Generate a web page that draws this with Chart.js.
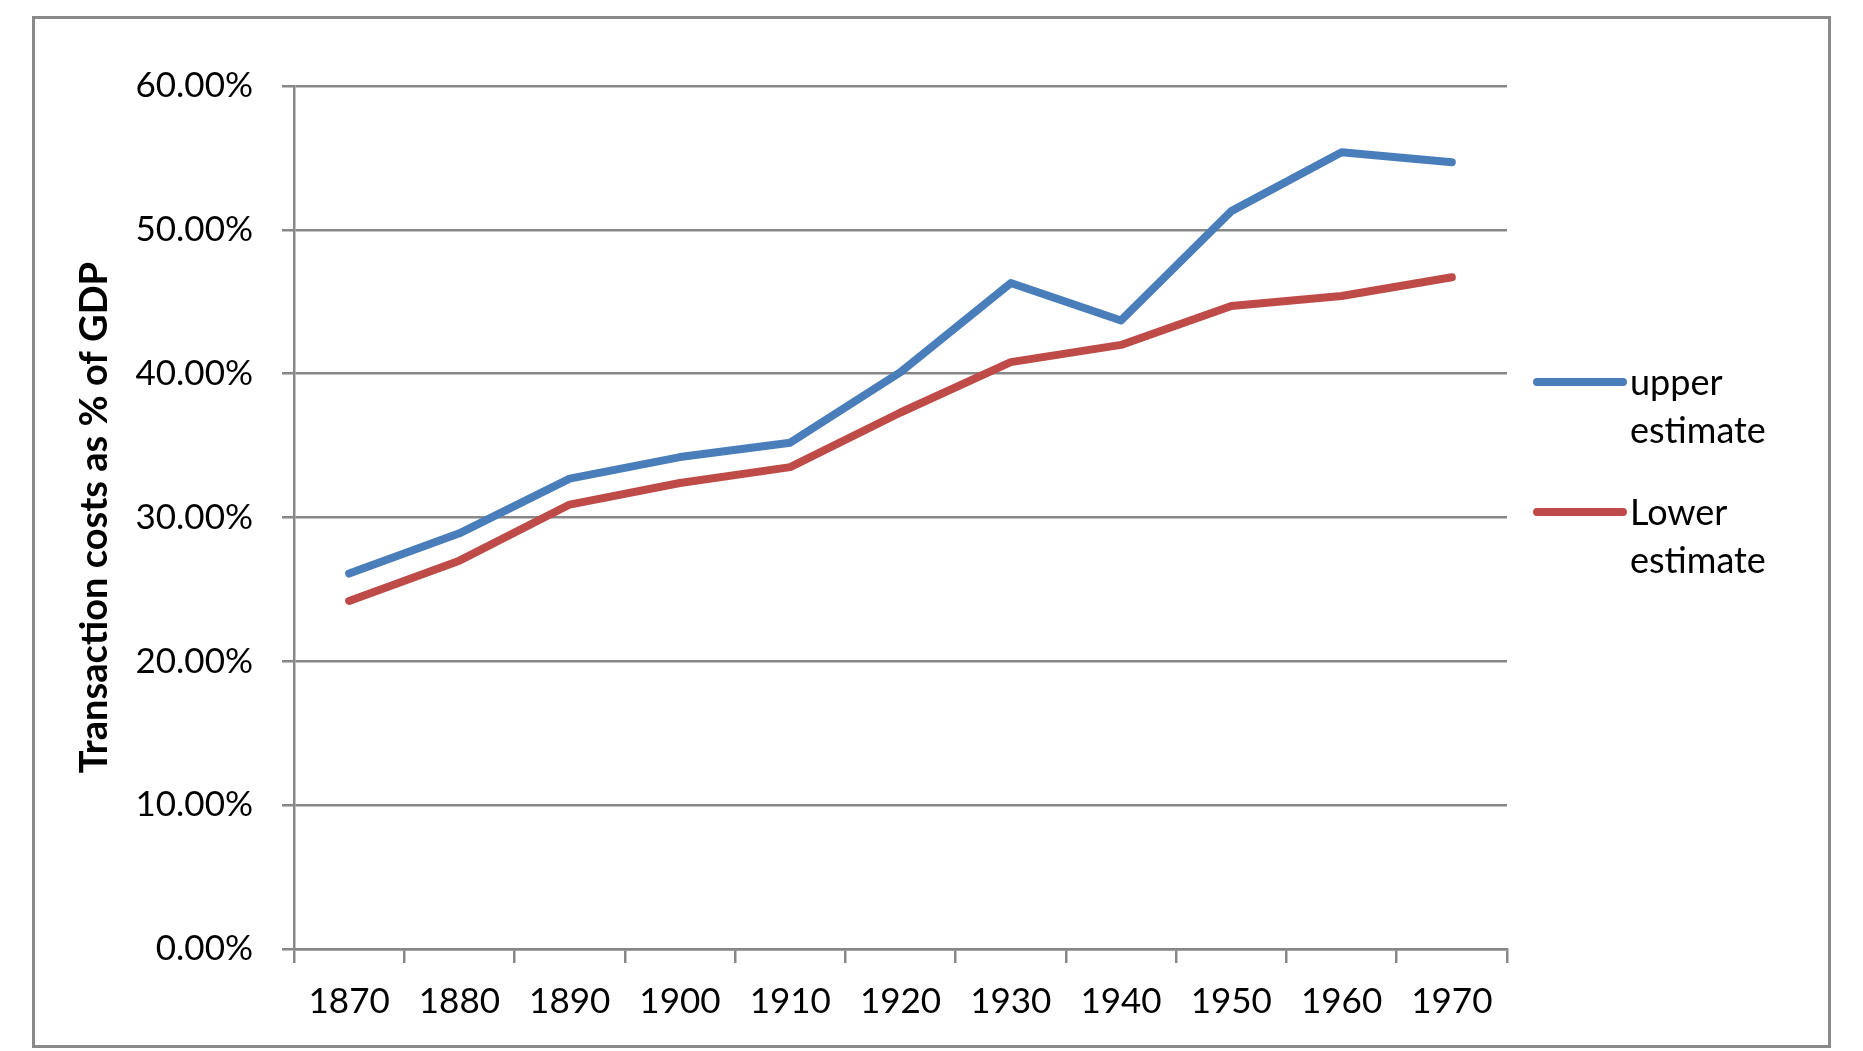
<!DOCTYPE html>
<html>
<head>
<meta charset="utf-8">
<script src="https://cdn.jsdelivr.net/npm/chart.js@4/dist/chart.umd.min.js"></script>
<style>
  html, body { margin: 0; padding: 0; background: #ffffff; }
  canvas { display: block; }
</style>
</head>
<body>
<canvas id="c" width="1863" height="1051" style="width:1863px;height:1051px"></canvas>
<script>
const years = ['1870','1880','1890','1900','1910','1920','1930','1940','1950','1960','1970'];
const upperEstimate = [26.1, 28.9, 32.7, 34.2, 35.2, 40.1, 46.3, 43.7, 51.3, 55.4, 54.7];
const lowerEstimate = [24.2, 27.0, 30.9, 32.4, 33.5, 37.3, 40.8, 42.0, 44.7, 45.4, 46.7];
const seriesLabels = [['upper', 'estimate'], ['Lower', 'estimate']];
const yTitle = 'Transaction costs as % of GDP';

const BLUE = '#4a7ebb';
const RED = '#be4b48';
const GRID = '#878787';
const FONT = 'Lato, Carlito, Calibri, sans-serif';

const framePlugin = {
  id: 'frame',
  beforeDraw(chart) {
    const ctx = chart.ctx;
    ctx.save();
    ctx.fillStyle = '#ffffff';
    ctx.fillRect(0, 0, chart.width, chart.height);
    ctx.strokeStyle = '#898989';
    ctx.lineWidth = 3;
    ctx.strokeRect(33.5, 17.5, 1796, 1029);
    ctx.restore();
  }
};

const legendPlugin = {
  id: 'sideLegend',
  afterDraw(chart) {
    const ctx = chart.ctx;
    const area = chart.chartArea;
    const x0 = area.right + 30;
    const x1 = x0 + 86;
    const tx = x1 + 7;
    ctx.save();
    ctx.font = '36px ' + FONT;
    ctx.textBaseline = 'alphabetic';
    ctx.textAlign = 'left';
    chart.data.datasets.forEach((ds, i) => {
      const baseY = 395 + i * 130;
      const lineY = baseY - 13;
      ctx.strokeStyle = ds.borderColor;
      ctx.lineWidth = 8;
      ctx.lineCap = 'round';
      ctx.beginPath();
      ctx.moveTo(x0, lineY);
      ctx.lineTo(x1, lineY);
      ctx.stroke();
      ctx.fillStyle = '#000000';
      const lines = Array.isArray(ds.label) ? ds.label : [ds.label];
      lines.forEach((t, j) => ctx.fillText(t, tx, baseY + j * 48));
    });
    ctx.restore();
  }
};

new Chart(document.getElementById('c'), {
  type: 'line',
  data: {
    labels: years,
    datasets: [
      { label: seriesLabels[0], data: upperEstimate, borderColor: BLUE, backgroundColor: BLUE },
      { label: seriesLabels[1], data: lowerEstimate, borderColor: RED, backgroundColor: RED }
    ]
  },
  options: {
    responsive: false,
    animation: false,
    devicePixelRatio: 1,
    layout: { padding: { top: 86, right: 356, left: 0, bottom: 0 } },
    elements: {
      line: { borderWidth: 8, borderCapStyle: 'round', borderJoinStyle: 'round', tension: 0 },
      point: { radius: 0, hoverRadius: 0 }
    },
    plugins: {
      legend: { display: false },
      tooltip: { enabled: false }
    },
    scales: {
      x: {
        offset: true,
        grid: { offset: true, drawOnChartArea: false, drawTicks: true, tickLength: 14, color: GRID, lineWidth: 2.5 },
        border: { display: true, color: GRID, width: 2.5 },
        ticks: { color: '#000000', font: { family: FONT, size: 35 }, padding: 18, maxRotation: 0, autoSkip: false },
        afterFit(scale) { scale.height = 102; }
      },
      y: {
        min: 0,
        max: 60,
        grid: { color: GRID, lineWidth: 2.5, tickLength: 12, drawTicks: true },
        border: { display: true, color: GRID, width: 2.5 },
        ticks: {
          stepSize: 10,
          color: '#000000',
          font: { family: FONT, size: 35 },
          padding: 29,
          callback: (v) => v.toFixed(2) + '%'
        },
        title: {
          display: true,
          text: yTitle,
          color: '#000000',
          font: { family: FONT, size: 38, weight: 'bold', lineHeight: 1.2 },
          padding: { top: 72, bottom: 0 }
        },
        afterFit(scale) { scale.width = 294; }
      }
    }
  },
  plugins: [framePlugin, legendPlugin]
});
</script>
</body>
</html>
